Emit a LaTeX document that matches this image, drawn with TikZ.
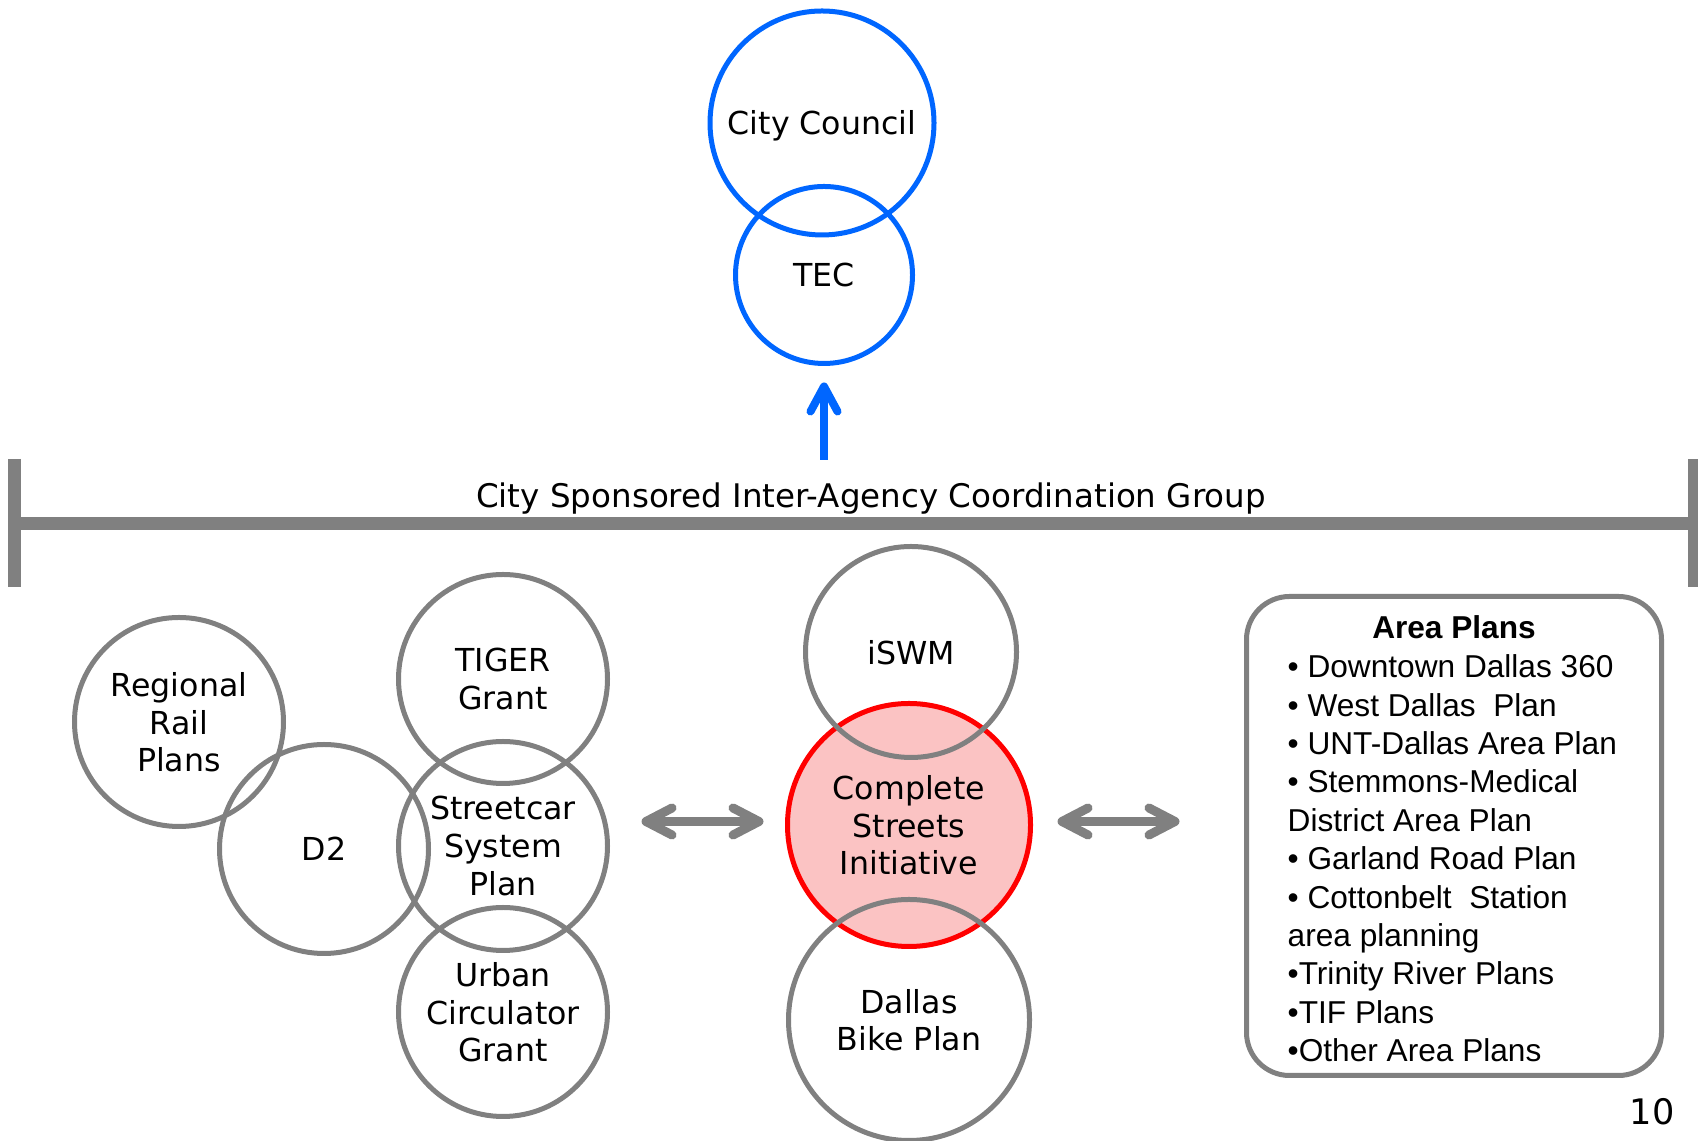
\documentclass[tikz,border=0pt]{standalone}
\usepackage{fontspec}
\setmainfont{DejaVu Sans}
\newfontfamily\arialfont{Liberation Sans}
\usepackage{xcolor}
\usetikzlibrary{arrows.meta, positioning}
\definecolor{cblue}{HTML}{0066FF}
\definecolor{cgray}{HTML}{808080}
\definecolor{cred}{HTML}{FF0000}
\definecolor{cpink}{HTML}{FBC3C3}

\begin{document}
\begin{tikzpicture}[x=1cm, y=1cm,
  ring/.style={circle, draw=cgray, line width=0.05cm, inner sep=0pt, align=center,
    text depth=0pt, font=\fontsize{9}{10.8}\selectfont},
  bluering/.style={ring, draw=cblue},
  twoway/.style={cgray, line width=0.09cm,
    {Straight Barb[round, length=0.26cm, width=0.27cm]}-{Straight Barb[round, length=0.26cm, width=0.27cm]}}]
\useasboundingbox (0,0) rectangle (16.98,11.41);

% council and TEC
\node[bluering, minimum size=2.24cm] (council) at (8.22,10.18) {City Council};
\node[bluering, minimum size=1.77cm] (tec) at (8.24,8.66) {TEC};
\coordinate (feed) at (8.24,6.81);
\draw[cblue, line width=0.08cm, -{Straight Barb[round, length=0.25cm, width=0.27cm]},
  shorten >=0.165cm] (feed) -- (tec.south);

% coordination group bar
\node[font=\fontsize{9.25}{11}\selectfont] (group) at (8.71,6.42)
  {City Sponsored Inter-Agency Coordination Group};
\draw[cgray, line width=0.13cm] (0.08,6.17) -- (16.98,6.17);
\draw[cgray, line width=0.13cm] (0.145,6.82) -- (0.145,5.54);
\draw[cgray, line width=0.13cm] (16.94,6.82) -- (16.94,5.54);

% transit plans
\node[ring, minimum size=2.09cm] (regional) at (1.79,4.19) {Regional\\Rail\\Plans};
\node[ring, minimum size=2.09cm] (d2) at (3.24,2.92) {D2};
\node[ring, minimum size=2.09cm] (tiger) at (5.03,4.62) {TIGER\\Grant};
\node[ring, minimum size=2.09cm] (street) at (5.03,2.95) {Streetcar\\System\\Plan};
\node[ring, minimum size=2.09cm] (urban) at (5.03,1.29) {Urban\\Circulator\\Grant};

% complete streets
\node[ring, draw=cred, fill=cpink, minimum size=2.43cm] (csi) at (9.09,3.16)
  {Complete\\Streets\\Initiative};
\node[ring, minimum size=2.11cm] (iswm) at (9.11,4.89) {iSWM};
\node[ring, minimum size=2.41cm] (bike) at (9.09,1.21) {Dallas\\Bike Plan};

% area plans
\node[draw=cgray, line width=0.05cm, rounded corners=0.43cm,
  minimum width=4.15cm, minimum height=4.79cm] (areabox) at (14.54,3.05) {};
\node[font=\arialfont\bfseries\fontsize{9}{10.93}\selectfont] (areatitle) at (14.54,5.14)
  {Area Plans};
\node[anchor=north west, inner sep=0pt, align=left,
  font=\arialfont\fontsize{9}{10.93}\selectfont] (arealist) at (12.87,4.87)
  {• Downtown Dallas 360\\
   • West Dallas\ \ Plan\\
   • UNT-Dallas Area Plan\\
   • Stemmons-Medical\\
   District Area Plan\\
   • Garland Road Plan\\
   • Cottonbelt\ \ Station\\
   area planning\\
   •Trinity River Plans\\
   •TIF Plans\\
   •Other Area Plans};

\coordinate (arrowrow) at ([yshift=0.035cm]csi.center);
\draw[twoway, shorten <=0.315cm, shorten >=0.215cm] (street.east |- arrowrow) -- (csi.west |- arrowrow);
\draw[twoway, shorten <=0.245cm, shorten >=0.645cm] (csi.east |- arrowrow) -- (areabox.west |- arrowrow);

\node[font=\fontsize{10}{12}\selectfont] (pagenum) at (16.52,0.29) {10};
\end{tikzpicture}
\end{document}
